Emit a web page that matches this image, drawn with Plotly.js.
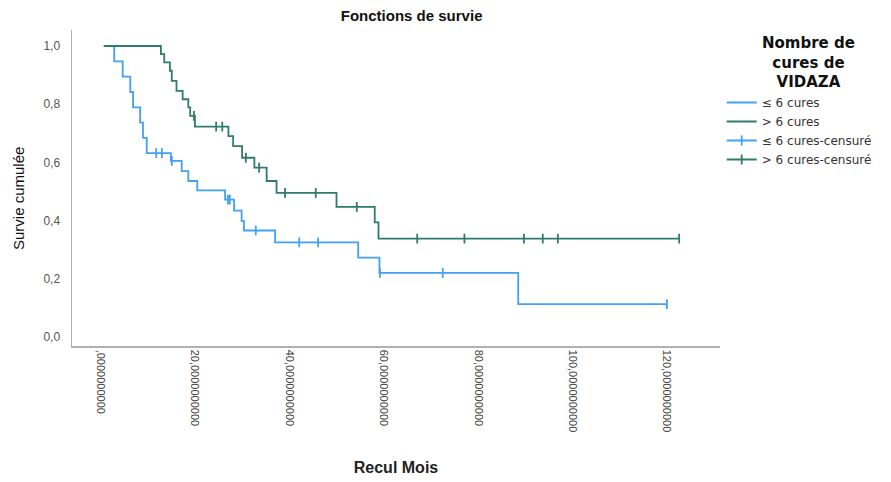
<!DOCTYPE html>
<html>
<head>
<meta charset="utf-8">
<script src="https://cdn.plot.ly/plotly-3.0.1.min.js"></script>
<style>html,body{margin:0;padding:0;background:#fff;}#chart{width:891px;height:482px;}</style>
</head>
<body>
<div id="chart"></div>
<script>
// ≤ 6 cures : step curve
const blueTimes = [0.7, 2.9, 4.7, 6.3, 6.9, 8.4, 9.0, 9.8, 14.9, 17.2, 18.6, 20.5, 26.4, 28.3, 29.9, 30.4, 37.0, 54.6, 59.1, 88.5, 120.0];
const blueSurv  = [1.0, 0.947, 0.895, 0.842, 0.789, 0.737, 0.684, 0.632, 0.605, 0.570, 0.536, 0.504, 0.472, 0.434, 0.398, 0.366, 0.325, 0.273, 0.220, 0.113, 0.113];
// ≤ 6 cures : censored
const blueCensT = [11.8, 13.0, 15.1, 27.0, 27.4, 32.9, 42.1, 46.1, 59.2, 72.5, 120.0];
const blueCensS = [0.632, 0.632, 0.605, 0.472, 0.472, 0.366, 0.325, 0.325, 0.220, 0.220, 0.113];
// > 6 cures : step curve
const greenTimes = [0.7, 12.8, 13.5, 14.7, 15.1, 16.1, 17.4, 18.6, 19.0, 20.0, 27.1, 28.1, 30.0, 32.6, 35.2, 37.3, 50.0, 58.1, 58.9, 122.6];
const greenSurv  = [1.0, 0.972, 0.944, 0.915, 0.880, 0.846, 0.817, 0.789, 0.760, 0.723, 0.690, 0.656, 0.616, 0.582, 0.536, 0.495, 0.447, 0.394, 0.338, 0.338];
// > 6 cures : censored
const greenCensT = [19.8, 24.5, 25.8, 30.8, 33.6, 39.1, 45.6, 54.3, 67.1, 77.1, 89.7, 93.7, 96.9, 122.6];
const greenCensS = [0.760, 0.723, 0.723, 0.616, 0.582, 0.495, 0.495, 0.447, 0.338, 0.338, 0.338, 0.338, 0.338, 0.338];

const seriesNames = ["≤ 6 cures", "> 6 cures", "≤ 6 cures-censuré", "> 6 cures-censuré"];
const legendTitle = ["Nombre de", "cures de", "VIDAZA"];
const xTickVals = [0, 20, 40, 60, 80, 100, 120];
const xTickText = [",0000000000", "20,0000000000", "40,0000000000", "60,0000000000", "80,0000000000", "100,0000000000", "120,0000000000"];
const yTickVals = [0, 0.2, 0.4, 0.6, 0.8, 1.0];
const yTickText = ["0,0", "0,2", "0,4", "0,6", "0,8", "1,0"];

const BLUE = "#42a1f0";
const GREEN = "#2f7b6c";

function isolate(xs, ys) {
  const X = [], Y = [];
  xs.forEach((v, i) => { X.push(v, null); Y.push(ys[i], null); });
  return {X, Y};
}
const bc = isolate(blueCensT, blueCensS);
const gc = isolate(greenCensT, greenCensS);

const traces = [
  {x: blueTimes, y: blueSurv, name: seriesNames[0], mode: "lines", line: {shape: "hv", color: BLUE, width: 1.8}},
  {x: greenTimes, y: greenSurv, name: seriesNames[1], mode: "lines", line: {shape: "hv", color: GREEN, width: 1.8}},
  {x: bc.X, y: bc.Y, name: seriesNames[2], mode: "lines+markers", connectgaps: false,
   line: {color: BLUE, width: 1.8}, marker: {symbol: "line-ns-open", size: 7, color: BLUE, line: {color: BLUE, width: 1.8}}},
  {x: gc.X, y: gc.Y, name: seriesNames[3], mode: "lines+markers", connectgaps: false,
   line: {color: GREEN, width: 1.8}, marker: {symbol: "line-ns-open", size: 7, color: GREEN, line: {color: GREEN, width: 1.8}}}
];

const layout = {
  width: 891, height: 482,
  margin: {l: 72, r: 171, t: 30, b: 136, pad: 0},
  paper_bgcolor: "#fff", plot_bgcolor: "#fff",
  font: {family: "Liberation Sans, Arial, sans-serif", color: "#333"},
  title: {text: "<b>Fonctions de survie</b>", x: 0.462, xref: "container", xanchor: "center", y: 0.967, yref: "container", yanchor: "middle",
          font: {size: 15, color: "#111"}},
  xaxis: {
    range: [-6.04, 131.25], showgrid: false, zeroline: false, showline: true, linecolor: "#b0b0b0", linewidth: 1.5,
    ticks: "", tickvals: xTickVals, ticktext: xTickText, tickangle: 90,
    tickfont: {family: "Liberation Sans, Arial, sans-serif", size: 11, color: "#444"},
    title: {text: "<b>Recul Mois</b>", font: {size: 16, color: "#222"}, standoff: 30}
  },
  yaxis: {
    range: [-0.031, 1.055], showgrid: false, zeroline: false, showline: true, linecolor: "#b0b0b0", linewidth: 1.5,
    ticks: "", tickvals: yTickVals, ticktext: yTickText, ticklabelstandoff: 8,
    tickfont: {size: 12, color: "#555"}
  },
  annotations: [
    {text: "Survie cumulée", xref: "paper", yref: "paper", x: -54/648, y: (346-199)/316, xanchor: "center", yanchor: "middle",
     textangle: -90, showarrow: false, font: {family: "Liberation Sans Narrow, Arial Narrow, Liberation Sans, sans-serif", size: 15, color: "#111"}},
    {text: "<b>" + legendTitle.join("<br>") + "</b>", xref: "paper", yref: "paper", x: (808-72)/648, y: (346-62)/316,
     xanchor: "center", yanchor: "middle", align: "center", showarrow: false,
     font: {family: "DejaVu Sans, sans-serif", size: 15, color: "#111"}}
  ],
  showlegend: true,
  legend: {
    x: 0.81, xref: "container", xanchor: "left", y: 1 - 88/482, yref: "container", yanchor: "top",
    bgcolor: "rgba(0,0,0,0)", borderwidth: 0, traceorder: "normal",
    font: {family: "DejaVu Sans, sans-serif", size: 12, color: "#333"}, itemwidth: 30, tracegroupgap: 0
  },
  hovermode: false
};

Plotly.newPlot("chart", traces, layout, {staticPlot: true, displayModeBar: false});
</script>
</body>
</html>
